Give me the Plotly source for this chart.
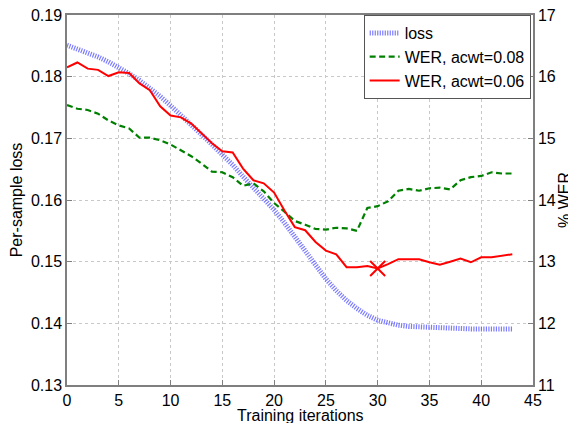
import plotly.graph_objects as go

iterations = list(range(44))

loss = [0.1851, 0.1845, 0.1839, 0.1832, 0.1824, 0.1815, 0.1805, 0.1794, 0.1782, 0.1768,
        0.1753, 0.1738, 0.1722, 0.1706, 0.1690, 0.1674, 0.1657, 0.1638, 0.1620, 0.1601,
        0.1584, 0.1563, 0.1540, 0.1517, 0.1494, 0.1472, 0.1453, 0.1437, 0.1424, 0.1413,
        0.1405, 0.1400, 0.1397, 0.1395, 0.1394, 0.1393, 0.1392, 0.1392, 0.1391, 0.1391,
        0.1391, 0.1391, 0.1391, 0.1391]

wer_008 = [15.54, 15.48, 15.46, 15.40, 15.29, 15.21, 15.16, 15.01, 15.01, 14.97,
           14.90, 14.80, 14.71, 14.59, 14.46, 14.45, 14.37, 14.23, 14.27, 14.14,
           13.95, 13.81, 13.66, 13.60, 13.53, 13.52, 13.55, 13.54, 13.50, 13.87,
           13.90, 13.98, 14.15, 14.18, 14.15, 14.19, 14.20, 14.17, 14.32, 14.37,
           14.39, 14.45, 14.43, 14.43]

wer_006 = [16.15, 16.23, 16.13, 16.11, 16.01, 16.07, 16.06, 15.89, 15.78, 15.52,
           15.37, 15.34, 15.24, 15.08, 14.92, 14.79, 14.77, 14.51, 14.32, 14.27,
           14.12, 13.83, 13.56, 13.51, 13.32, 13.18, 13.12, 12.91, 12.91, 12.93,
           12.89, 12.96, 13.04, 13.04, 13.04, 12.99, 12.95, 13.00, 13.05, 12.99,
           13.07, 13.07, 13.09, 13.12]

best_iter = [30]
best_wer = [12.89]

x_ticks = [0, 5, 10, 15, 20, 25, 30, 35, 40, 45]
loss_ticks = [0.13, 0.14, 0.15, 0.16, 0.17, 0.18, 0.19]
wer_ticks = [11, 12, 13, 14, 15, 16, 17]

FONT = "Liberation Sans, Arial, sans-serif"
FS = 16

fig = go.Figure()
fig.add_trace(go.Scatter(
    x=iterations, y=loss, name="loss", mode="lines",
    line=dict(color="rgba(80,80,255,0.75)", width=5, dash="1.2px,1.3px"),
    yaxis="y"))
fig.add_trace(go.Scatter(
    x=iterations, y=wer_008, name="WER, acwt=0.08", mode="lines",
    line=dict(color="#008000", width=2.2, dash="6px,3.5px"),
    yaxis="y2"))
fig.add_trace(go.Scatter(
    x=iterations, y=wer_006, name="WER, acwt=0.06", mode="lines",
    line=dict(color="#ff0000", width=2),
    yaxis="y2"))
fig.add_trace(go.Scatter(
    x=best_iter, y=best_wer, mode="markers", showlegend=False,
    marker=dict(symbol="x-thin-open", size=15, color="#ff0000",
                line=dict(color="#ff0000", width=2)),
    yaxis="y2"))

axis_common = dict(
    showline=True, linecolor="#7f7f7f", linewidth=1.5,
    ticks="inside", ticklen=5, tickcolor="#7f7f7f",
    tickfont=dict(family=FONT, size=FS, color="black"),
    zeroline=False, automargin=False, ticklabeloverflow="allow",
)

# the page body adds an 8px offset, so margins are shifted to compensate
fig.update_layout(
    width=576, height=423,
    margin=dict(l=59, r=51, t=7, b=46),
    paper_bgcolor="white", plot_bgcolor="white",
    font=dict(family=FONT, size=FS, color="black"),
    xaxis=dict(
        range=[0, 45], tickvals=x_ticks, mirror=True,
        showgrid=True, gridcolor="#c8c8c8", griddash="dot", gridwidth=1,
        **axis_common),
    yaxis=dict(
        range=[0.13, 0.19], tickvals=loss_ticks, tickformat=".2f", mirror=True,
        showgrid=True, gridcolor="#c8c8c8", griddash="dot", gridwidth=1,
        title=dict(text="Per-sample loss", font=dict(family=FONT, size=FS), standoff=5),
        **axis_common),
    yaxis2=dict(
        range=[11, 17], tickvals=wer_ticks, overlaying="y", side="right",
        showgrid=False,
        title=dict(text="% WER", font=dict(family=FONT, size=FS), standoff=3),
        **axis_common),
    legend=dict(
        x=0.995, y=1.0, xanchor="right", yanchor="top",
        bgcolor="white", bordercolor="#555555", borderwidth=1,
        font=dict(family=FONT, size=FS), itemwidth=30,
        tracegroupgap=0),
    showlegend=True,
    annotations=[dict(
        text="Training iterations", xref="paper", yref="paper",
        x=0.5, y=-0.082, xanchor="center", yanchor="middle",
        showarrow=False, font=dict(family=FONT, size=FS, color="black"))],
)

fig.write_html("out.html")
